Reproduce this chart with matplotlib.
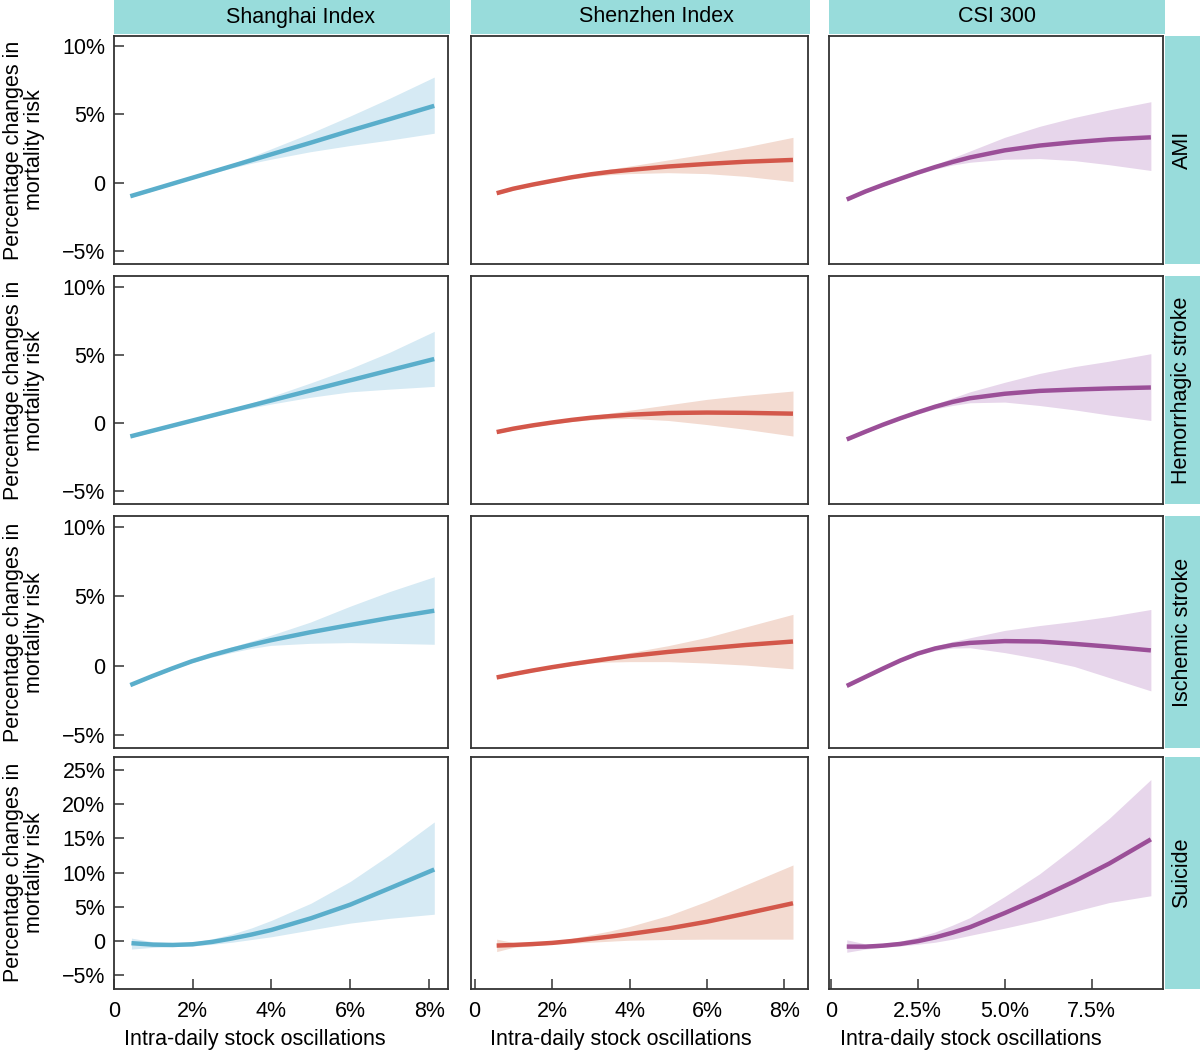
import matplotlib
matplotlib.use("Agg")
import matplotlib.pyplot as plt
from matplotlib.patches import Rectangle

plt.rcParams['font.family'] = ['Liberation Sans', 'DejaVu Sans']

# ---------------- data ----------------
indices = ["Shanghai Index", "Shenzhen Index", "CSI 300"]
outcomes = ["AMI", "Hemorrhagic stroke", "Ischemic stroke", "Suicide"]

x_sh = [0.45, 1, 1.5, 2, 2.5, 3, 3.5, 4, 5, 6, 7, 8.13]
x_sz = [0.57, 1, 1.5, 2, 2.5, 3, 3.5, 4, 5, 6, 7, 8.22]
x_csi = [0.46, 1, 1.5, 2, 2.5, 3, 3.5, 4, 5, 6, 7, 8, 9.2]

# Shanghai Index
sh_ami = [-1.0, -0.53, -0.1, 0.33, 0.76, 1.19, 1.62, 2.05, 2.9, 3.78, 4.63, 5.6]
sh_ami_lo = [-1.1, -0.62, -0.18, 0.25, 0.66, 1.05, 1.4, 1.7, 2.25, 2.7, 3.1, 3.6]
sh_ami_hi = [-0.9, -0.44, -0.02, 0.42, 0.87, 1.35, 1.88, 2.45, 3.6, 4.85, 6.15, 7.7]
sh_hem = [-0.97, -0.56, -0.19, 0.18, 0.55, 0.92, 1.29, 1.66, 2.4, 3.14, 3.88, 4.71]
sh_hem_lo = [-1.07, -0.65, -0.27, 0.1, 0.46, 0.8, 1.12, 1.4, 1.9, 2.3, 2.5, 2.7]
sh_hem_hi = [-0.87, -0.47, -0.11, 0.26, 0.64, 1.05, 1.48, 1.95, 2.95, 4.0, 5.2, 6.74]
sh_isc = [-1.39, -0.75, -0.2, 0.32, 0.76, 1.15, 1.51, 1.84, 2.42, 2.94, 3.45, 3.97]
sh_isc_lo = [-1.49, -0.85, -0.3, 0.22, 0.62, 0.95, 1.25, 1.47, 1.62, 1.67, 1.62, 1.55]
sh_isc_hi = [-1.29, -0.65, -0.1, 0.42, 0.9, 1.35, 1.77, 2.2, 3.15, 4.29, 5.35, 6.42]
sh_sui = [-0.34, -0.55, -0.6, -0.5, -0.15, 0.35, 0.93, 1.6, 3.3, 5.3, 7.7, 10.44]
sh_sui_lo = [-1.2, -0.95, -0.85, -0.75, -0.5, -0.2, 0.2, 0.6, 1.6, 2.6, 3.3, 3.9]
sh_sui_hi = [0.4, -0.15, -0.3, -0.2, 0.3, 1.0, 1.9, 3.0, 5.5, 8.7, 12.6, 17.4]

# Shenzhen Index
sz_ami = [-0.78, -0.45, -0.15, 0.12, 0.38, 0.6, 0.78, 0.92, 1.17, 1.36, 1.52, 1.65]
sz_ami_lo = [-0.88, -0.55, -0.25, 0.02, 0.27, 0.45, 0.57, 0.65, 0.72, 0.65, 0.45, 0.07]
sz_ami_hi = [-0.68, -0.35, -0.05, 0.22, 0.49, 0.75, 0.98, 1.2, 1.65, 2.1, 2.6, 3.3]
sz_hem = [-0.65, -0.4, -0.16, 0.05, 0.24, 0.4, 0.52, 0.62, 0.75, 0.78, 0.76, 0.7]
sz_hem_lo = [-0.75, -0.5, -0.26, -0.05, 0.12, 0.25, 0.32, 0.35, 0.2, -0.1, -0.45, -0.94]
sz_hem_hi = [-0.55, -0.3, -0.06, 0.15, 0.36, 0.55, 0.74, 0.95, 1.35, 1.75, 2.05, 2.36]
sz_isc = [-0.84, -0.6, -0.34, -0.1, 0.12, 0.32, 0.52, 0.7, 1.0, 1.25, 1.5, 1.75]
sz_isc_lo = [-0.94, -0.7, -0.44, -0.2, 0.02, 0.2, 0.27, 0.3, 0.3, 0.2, 0.05, -0.22]
sz_isc_hi = [-0.74, -0.5, -0.24, 0.0, 0.24, 0.5, 0.73, 0.95, 1.45, 2.05, 2.8, 3.71]
sz_sui = [-0.69, -0.6, -0.47, -0.3, -0.03, 0.3, 0.63, 1.0, 1.8, 2.8, 4.0, 5.5]
sz_sui_lo = [-1.57, -0.95, -0.7, -0.5, -0.35, -0.2, -0.05, 0.1, 0.2, 0.25, 0.25, 0.25]
sz_sui_hi = [0.25, -0.25, -0.25, -0.1, 0.35, 0.9, 1.45, 2.1, 3.7, 5.8, 8.2, 11.1]

# CSI 300
csi_ami = [-1.24, -0.65, -0.17, 0.28, 0.72, 1.13, 1.5, 1.83, 2.35, 2.7, 2.95, 3.15, 3.3]
csi_ami_lo = [-1.34, -0.75, -0.27, 0.18, 0.6, 0.98, 1.28, 1.48, 1.7, 1.75, 1.6, 1.3, 0.88]
csi_ami_hi = [-1.14, -0.55, -0.07, 0.38, 0.84, 1.3, 1.8, 2.3, 3.3, 4.1, 4.75, 5.3, 5.9]
csi_hem = [-1.19, -0.62, -0.11, 0.36, 0.8, 1.21, 1.56, 1.83, 2.16, 2.37, 2.47, 2.55, 2.62]
csi_hem_lo = [-1.29, -0.72, -0.21, 0.26, 0.68, 1.05, 1.3, 1.5, 1.55, 1.3, 0.98, 0.6, 0.2]
csi_hem_hi = [-1.09, -0.52, -0.01, 0.46, 0.92, 1.4, 1.85, 2.3, 3.0, 3.65, 4.15, 4.55, 5.1]
csi_isc = [-1.45, -0.8, -0.2, 0.38, 0.88, 1.25, 1.5, 1.65, 1.78, 1.75, 1.58, 1.38, 1.11]
csi_isc_lo = [-1.55, -0.9, -0.3, 0.28, 0.77, 1.1, 1.28, 1.3, 0.95, 0.5, -0.05, -0.85, -1.81]
csi_isc_hi = [-1.35, -0.7, -0.1, 0.48, 0.99, 1.42, 1.75, 2.02, 2.55, 2.9, 3.2, 3.55, 4.06]
csi_sui = [-0.84, -0.85, -0.7, -0.45, -0.05, 0.5, 1.2, 2.0, 4.07, 6.3, 8.7, 11.3, 14.85]
csi_sui_lo = [-1.67, -1.2, -0.95, -0.75, -0.5, -0.2, 0.25, 0.8, 1.86, 3.0, 4.3, 5.6, 6.6]
csi_sui_hi = [0.15, -0.45, -0.35, -0.05, 0.54, 1.3, 2.3, 3.4, 6.5, 9.8, 13.7, 17.9, 23.6]

x_cols = [x_sh, x_sz, x_csi]
series = [
    [(sh_ami, sh_ami_lo, sh_ami_hi), (sz_ami, sz_ami_lo, sz_ami_hi), (csi_ami, csi_ami_lo, csi_ami_hi)],
    [(sh_hem, sh_hem_lo, sh_hem_hi), (sz_hem, sz_hem_lo, sz_hem_hi), (csi_hem, csi_hem_lo, csi_hem_hi)],
    [(sh_isc, sh_isc_lo, sh_isc_hi), (sz_isc, sz_isc_lo, sz_isc_hi), (csi_isc, csi_isc_lo, csi_isc_hi)],
    [(sh_sui, sh_sui_lo, sh_sui_hi), (sz_sui, sz_sui_lo, sz_sui_hi), (csi_sui, csi_sui_lo, csi_sui_hi)],
]

yticks_top = [-5, 0, 5, 10]
yticklabels_top = ["\u22125%", "0", "5%", "10%"]
yticks_bot = [-5, 0, 5, 10, 15, 20, 25]
yticklabels_bot = ["\u22125%", "0", "5%", "10%", "15%", "20%", "25%"]
xticks_cols = [[0, 2, 4, 6, 8], [0, 2, 4, 6, 8], [0, 2.5, 5.0, 7.5]]
xticklabels_cols = [["0", "2%", "4%", "6%", "8%"], ["0", "2%", "4%", "6%", "8%"],
                    ["0", "2.5%", "5.0%", "7.5%"]]
ylabel_text = "Percentage changes in\nmortality risk"
xlabel_text = "Intra-daily stock oscillations"

# ---------------- style / layout ----------------
line_colors = ["#5aaecb", "#d3574a", "#9b4f98"]
band_colors = ["#d6eaf4", "#f3dbd1", "#e7d6eb"]
strip_color = "#98dcdb"
spine_color = "#333333"

W, H = 1200, 1052
fig = plt.figure(figsize=(W / 100, H / 100), dpi=100)

col_lr = [(113.7, 447.7), (470.7, 807.7), (829.0, 1162.7)]
row_tb = [(36, 264), (276, 504.3), (516, 748.3), (757, 988.7)]
xlims = [(0.03, 8.47), (-0.1, 8.6), (-0.05, 9.54)]
ylims = [(-5.95, 10.7), (-5.95, 10.8), (-5.95, 10.8), (-7.0, 26.9)]
title_cx = [300, 656, 997]
xlabel_cx = [255, 621, 971]


def rect(l, t, r, b):
    return [l / W, 1 - b / H, (r - l) / W, (b - t) / H]


FS = 15.5
for i in range(4):
    t, b = row_tb[i]
    for j in range(3):
        l, r = col_lr[j]
        ax = fig.add_axes(rect(l, t, r, b))
        y, lo, hi = series[i][j]
        xs = x_cols[j]
        ax.fill_between(xs, lo, hi, color=band_colors[j], lw=0)
        ax.plot(xs, y, color=line_colors[j], lw=3.2, solid_capstyle='butt',
                solid_joinstyle='round')
        ax.set_xlim(*xlims[j])
        ax.set_ylim(*ylims[i])
        for s in ax.spines.values():
            s.set_color(spine_color)
            s.set_linewidth(1.3)
        ax.tick_params(direction='in', length=7, width=1.1, color=spine_color,
                       labelsize=FS, pad=6)
        if j == 0:
            if i < 3:
                ax.set_yticks(yticks_top)
                ax.set_yticklabels(yticklabels_top)
            else:
                ax.set_yticks(yticks_bot)
                ax.set_yticklabels(yticklabels_bot)
        else:
            ax.set_yticks([])
        if i == 3:
            ax.set_xticks(xticks_cols[j])
            ax.set_xticklabels(xticklabels_cols[j])
            ax.tick_params(axis='x', pad=9)
            fig.text(xlabel_cx[j] / W, 1 - 1040 / H, xlabel_text,
                     ha='center', va='center', fontsize=FS)
        else:
            ax.set_xticks([])

    # y label (row)
    fig.text(24 / W, 1 - (t + b) / 2 / H, ylabel_text, rotation=90, ha='center',
             va='center', fontsize=FS, linespacing=1.05, multialignment='center')

    # right strip
    fig.patches.append(Rectangle((1165 / W, 1 - b / H), 40 / W, (b - t) / H,
                                 transform=fig.transFigure, facecolor=strip_color,
                                 edgecolor='none', zorder=0))
    fig.text(1182 / W, 1 - (t + b) / 2 / H, outcomes[i], rotation=90,
             ha='center', va='center', fontsize=FS)

for j in range(3):
    l, r = col_lr[j]
    fig.patches.append(Rectangle((l / W, 1 - 33.5 / H), (r - l + 2) / W, 40 / H,
                                 transform=fig.transFigure, facecolor=strip_color,
                                 edgecolor='none', zorder=0))
    fig.text(title_cx[j] / W, 1 - 17 / H, indices[j], ha='center', va='center', fontsize=FS)

fig.savefig("out.png", dpi=100, facecolor='white')
